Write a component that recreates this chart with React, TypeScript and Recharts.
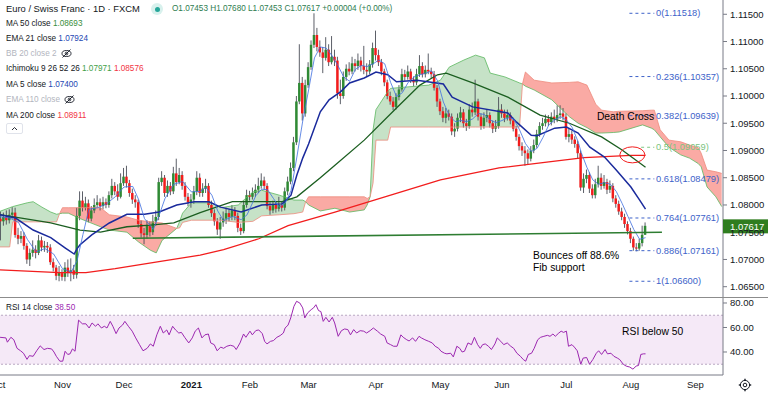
import React from 'react';
import { ComposedChart, Bar, Line, Area, XAxis, YAxis, ReferenceLine, ReferenceDot, ReferenceArea } from 'recharts';

const FONT = '"Liberation Sans", Arial, Helvetica, sans-serif';

// ---------- daily candles (Oct 1 2020 .. Aug 9 2021), open = previous close ----------
const firstOpen = 1.0785;
const closes = [
  1.0775,1.0770,1.0778,1.0772,1.0782,1.0786,1.0745,1.0738,1.0743,1.0725,1.0700,1.0712,1.0718,1.0712,1.0735,1.0722,1.0725,1.0722,1.0695,1.0685,1.0670,1.0675,
  1.0668,1.0685,1.0675,1.0680,1.0672,1.0780,1.0808,1.0795,1.0803,1.0775,1.0790,1.0800,1.0805,1.0798,1.0805,1.0800,1.0818,1.0835,1.0825,1.0815,1.0840,
  1.0852,1.0840,1.0822,1.0810,1.0805,1.0765,1.0748,1.0745,1.0762,1.0750,1.0770,1.0778,1.0842,1.0850,1.0822,1.0835,1.0825,1.0858,1.0842,1.0855,1.0835,1.0815,1.0805,
  1.0810,1.0825,1.0850,1.0822,1.0830,1.0835,1.0800,1.0785,1.0770,1.0755,1.0768,1.0775,1.0785,1.0778,1.0790,1.0780,1.0758,1.0752,1.0800,1.0818,
  1.0815,1.0822,1.0828,1.0835,1.0845,1.0835,1.0798,1.0790,1.0800,1.0793,1.0800,1.0795,1.0825,1.0843,1.0868,1.0915,1.0990,1.1024,1.0968,1.1020,
  1.1053,1.1094,1.1112,1.1090,1.1080,1.1070,1.1085,1.1062,1.1072,1.1065,1.1005,1.1000,1.1035,1.1050,1.1045,1.1060,1.1055,1.1065,1.1055,1.1048,1.1045,1.1058,1.1088,
  1.1075,1.1062,1.1045,1.1025,1.1000,1.0990,1.0980,1.0998,1.1012,1.1040,1.1035,1.1045,1.1030,1.1025,1.1040,1.1055,1.1040,1.1048,1.1045,1.1040,1.1015,1.0990,
  1.0972,1.0960,1.0968,1.0962,1.0935,1.0940,1.0960,1.0970,1.0950,1.0945,1.0975,1.0970,1.0990,1.0962,1.0945,1.0960,1.0965,1.0950,1.0940,1.0945,1.0975,
  1.0968,1.0960,1.0965,1.0955,1.0940,1.0925,1.0908,1.0900,1.0895,1.0885,1.0900,1.0910,1.0930,1.0945,1.0950,1.0958,1.0952,1.0962,1.0958,1.0965,1.0968,1.0962,
  1.0925,1.0930,1.0920,1.0912,1.0895,1.0832,1.0848,1.0855,1.0830,1.0818,1.0838,1.0850,1.0835,1.0842,1.0828,1.0835,1.0812,1.0802,1.0788,1.0778,1.0765,1.0752,
  1.0738,1.0722,1.0720,1.0730,1.07453,1.07617,
];
const highs = [
  1.0795,1.0788,1.0786,1.0790,1.0792,1.0796,1.0795,1.0758,1.0752,1.0750,1.0730,1.0720,1.0735,1.0726,1.0745,1.0742,1.0734,1.0732,1.0728,1.0702,1.0690,1.0688,
  1.0682,1.0695,1.0700,1.0702,1.0690,1.0795,1.0825,1.0825,1.0815,1.0810,1.0798,1.0812,1.0818,1.0812,1.0815,1.0812,1.0825,1.0848,1.0842,1.0838,1.0858,
  1.0868,1.0872,1.0846,1.0830,1.0818,1.0810,1.0772,1.0758,1.0772,1.0770,1.0782,1.0790,1.0850,1.0862,1.0855,1.0845,1.0842,1.0870,1.0885,1.0868,1.0862,1.0842,1.0822,
  1.0820,1.0835,1.0862,1.0858,1.0840,1.0848,1.0840,1.0808,1.0792,1.0776,1.0778,1.0788,1.0795,1.0792,1.0800,1.0796,1.0786,1.0766,1.0808,1.0828,
  1.0826,1.0832,1.0838,1.0850,1.0858,1.0852,1.0840,1.0805,1.0808,1.0806,1.0815,1.0806,1.0832,1.0852,1.0878,1.0925,1.1000,1.1095,1.1035,1.1030,
  1.1062,1.1102,1.11518,1.1125,1.1102,1.1090,1.1108,1.1095,1.1110,1.1085,1.1072,1.1030,1.1045,1.1058,1.1062,1.1072,1.1068,1.1078,1.1072,1.1092,1.1060,1.1066,1.1098,
  1.1120,1.1085,1.1068,1.1050,1.1030,1.1008,1.0998,1.1005,1.1020,1.1050,1.1048,1.1056,1.1050,1.1036,1.1050,1.1075,1.1062,1.1056,1.1078,1.1052,1.1046,1.1020,
  1.0995,1.0980,1.0978,1.0975,1.0968,1.0950,1.0968,1.0980,1.0976,1.0958,1.0985,1.0988,1.1030,1.0995,1.0968,1.0970,1.0975,1.0970,1.0955,1.0956,1.0998,
  1.0985,1.0975,1.0975,1.0970,1.0960,1.0945,1.0930,1.0915,1.0908,1.0902,1.0908,1.0920,1.0938,1.0952,1.0960,1.0966,1.0965,1.0970,1.0975,1.0983,1.0983,1.0978,
  1.0968,1.0940,1.0936,1.0926,1.0918,1.0900,1.0858,1.0865,1.0860,1.0838,1.0848,1.0872,1.0858,1.0855,1.0848,1.0845,1.0840,1.0818,1.0808,1.0795,1.0784,1.0770,
  1.0758,1.0742,1.0730,1.0738,1.0762,1.07680,
];
const lows = [
  1.0765,1.0735,1.0762,1.0764,1.0766,1.0775,1.0740,1.0728,1.0730,1.0718,1.0692,1.0688,1.0705,1.0702,1.0708,1.0715,1.0714,1.0712,1.0690,1.0678,1.0662,1.0660,
  1.0661,1.0660,1.0668,1.0660,1.0664,1.0665,1.0772,1.0788,1.0790,1.0768,1.0770,1.0785,1.0795,1.0790,1.0792,1.0794,1.0795,1.0812,1.0818,1.0808,1.0812,
  1.0835,1.0832,1.0815,1.0802,1.0795,1.0758,1.0740,1.0728,1.0738,1.0742,1.0745,1.0762,1.0772,1.0835,1.0815,1.0815,1.0818,1.0820,1.0835,1.0838,1.0828,1.0808,1.0798,
  1.0795,1.0802,1.0818,1.0815,1.0815,1.0822,1.0795,1.0778,1.0762,1.0745,1.0738,1.0760,1.0765,1.0770,1.0772,1.0772,1.0750,1.0745,1.0748,1.0795,
  1.0808,1.0810,1.0815,1.0822,1.0830,1.0828,1.0792,1.0782,1.0785,1.0786,1.0788,1.0788,1.0790,1.0818,1.0838,1.0862,1.0910,1.0985,1.0955,1.0962,
  1.1015,1.1048,1.1088,1.1082,1.1072,1.1042,1.1065,1.1055,1.1058,1.1055,1.0995,1.0985,1.0995,1.1028,1.1038,1.1040,1.1045,1.1048,1.1045,1.1040,1.1035,1.1040,1.1052,
  1.1065,1.1055,1.1038,1.1018,1.0994,1.0984,1.0974,1.0975,1.0992,1.1008,1.1028,1.1030,1.1024,1.1018,1.1020,1.1035,1.1034,1.1034,1.1040,1.1032,1.1010,1.0980,
  1.0965,1.0952,1.0950,1.0955,1.0928,1.0925,1.0935,1.0952,1.0942,1.0936,1.0940,1.0962,1.0965,1.0955,1.0938,1.0940,1.0952,1.0942,1.0932,1.0934,1.0940,
  1.0960,1.0952,1.0955,1.0948,1.0935,1.0918,1.0900,1.0890,1.0872,1.0875,1.0880,1.0895,1.0905,1.0925,1.0938,1.0944,1.0945,1.0946,1.0950,1.0952,1.0958,1.0955,
  1.0920,1.0915,1.0912,1.0905,1.0886,1.0826,1.0822,1.0840,1.0822,1.0812,1.0812,1.0832,1.0828,1.0830,1.0820,1.0822,1.0805,1.0795,1.0782,1.0772,1.0758,1.0746,
  1.0730,1.0716,1.0715,1.0716,1.0724,1.07453,
];

// ---------- indicator lines: [bar index, value] ----------
const ma5Pts: [number, number][] = [
  [0,1.0779],[4,1.0776],[7,1.0768],[10,1.0737],[13,1.0714],[16,1.0720],[19,1.0710],[22,1.0683],[25,1.0677],[27,1.0698],[29,1.0746],[31,1.0792],
  [34,1.0795],[37,1.0802],[40,1.0815],[43,1.0833],[46,1.0834],[48,1.0810],[50,1.0775],[53,1.0755],[55,1.0781],[57,1.0812],[60,1.0838],[63,1.0843],
  [66,1.0824],[69,1.0825],[71,1.0832],[73,1.0818],[75,1.0789],[77,1.0771],[80,1.0779],[83,1.0773],[85,1.0782],[88,1.0817],[90,1.0829],[92,1.0828],
  [94,1.0812],[96,1.0796],[98,1.0803],[100,1.0826],[102,1.0888],[104,1.0954],[106,1.1011],[108,1.1070],[110,1.1090],[112,1.1088],[114,1.1074],
  [116,1.1056],[118,1.1035],[120,1.1027],[122,1.1049],[124,1.1056],[126,1.1054],[128,1.1059],[130,1.1066],[132,1.1059],[134,1.1025],[136,1.0999],
  [138,1.1006],[140,1.1025],[142,1.1035],[144,1.1039],[146,1.1042],[148,1.1046],[150,1.1028],[152,1.0989],[154,1.0964],[156,1.0953],[158,1.0955],
  [160,1.0953],[162,1.0958],[164,1.0968],[166,1.0966],[168,1.0956],[170,1.0951],[172,1.0955],[174,1.0960],[176,1.0958],[178,1.0938],[180,1.0913],
  [182,1.0898],[184,1.0904],[186,1.0924],[188,1.0947],[190,1.0956],[192,1.0962],[194,1.0956],[196,1.0942],[198,1.0916],[199,1.0897],[201,1.0869],
  [203,1.0846],[205,1.0838],[207,1.0841],[209,1.0838],[211,1.0825],[213,1.0803],[215,1.0779],[217,1.0755],[219,1.0737],[221,1.0740],
];
const ema21Pts: [number, number][] = [
  [0,1.0783],[6,1.0776],[12,1.0754],[18,1.0740],[23,1.0721],[26,1.0710],[27,1.0720],[28,1.0727],[32,1.0745],[38,1.0767],[44,1.0783],[50,1.0783],
  [55,1.0787],[61,1.0800],[67,1.0806],[72,1.0806],[76,1.0796],[83,1.0787],[90,1.0800],[97,1.0802],[100,1.0818],[102,1.0855],[104,1.0886],
  [106,1.0912],[110,1.0971],[113,1.0993],[117,1.1008],[120,1.1024],[125,1.1033],[129,1.1044],[133,1.1039],[136,1.1026],[143,1.1029],[152,1.1022],
  [155,1.0998],[162,1.0980],[174,1.0969],[177,1.0952],[182,1.0928],[184,1.0927],[190,1.0941],[194,1.0943],[198,1.0932],[202,1.0906],[207,1.0888],
  [211,1.0864],[216,1.0833],[219,1.0809],[221,1.07924],
];
const ma50Pts: [number, number][] = [
  [0,1.0783],[8,1.0776],[18,1.0767],[28,1.0754],[35,1.0750],[44,1.0760],[52,1.0763],[60,1.0767],[69,1.0786],[80,1.0806],[97,1.0806],[102,1.0815],
  [110,1.0850],[115,1.0873],[125,1.0919],[136,1.0978],[144,1.1020],[150,1.1039],[153,1.1042],[162,1.1024],[174,1.0998],[185,1.0965],[195,1.0950],
  [206,1.0925],[213,1.0901],[221,1.08693],
];
const ma200Pts: [number, number][] = [
  [0,1.0681],[21,1.0676],[30,1.0676],[40,1.0683],[56,1.0697],[69,1.0708],[77,1.0718],[89,1.0738],[99,1.0762],[115,1.0787],[134,1.0818],
  [151,1.0846],[171,1.0868],[188,1.0879],[200,1.0887],[216,1.0891],[221,1.08911],
];

// ---------- Ichimoku leading spans (shifted 26 bars ahead) ----------
const kumoIdx = [0,4,5,10,12,15,18,20,21,22,24,28,35,38,44,48,52,54,56,59,61,62,63,66,73,76,82,87,90,96,101,104,105,106,110,115,120,125,126,127,128,129,133,134,147,151,154,159,163,166,168,173,178,179,180,183,189,195,198,201,204,206,210,212,220,223,224,226,229,233,236,239,240,242,245,247];
const kumoA = [1.0787,1.0795,1.0797,1.0804,1.0806,1.0796,1.0787,1.0783,1.0784,1.0785,1.0785,1.0775,1.0760,1.0754,1.0750,1.0732,1.0717,1.0712,1.0735,1.0748,1.0757,1.0770,1.0785,1.0804,1.0804,1.0795,1.0800,1.0824,1.0827,1.0818,1.0809,1.0809,1.0806,1.0800,1.0789,1.0794,1.0787,1.0791,1.0800,1.0815,1.0938,1.0975,1.1008,1.1014,1.1020,1.1029,1.1053,1.1066,1.1075,1.1070,1.1042,1.1035,1.1024,1.1022,1.1018,1.1011,1.0993,1.0962,1.0950,1.0942,1.0932,1.0932,1.0933,1.0934,1.0947,1.0941,1.0938,1.0925,1.0906,1.0892,1.0886,1.0876,1.0870,1.0833,1.0815,1.0797];
const kumoB = [1.0723,1.0723,1.0769,1.0769,1.0769,1.0769,1.0769,1.0769,1.0784,1.0795,1.0795,1.0795,1.0795,1.0782,1.0778,1.0772,1.0769,1.0768,1.0767,1.0761,1.0757,1.0758,1.0768,1.0772,1.0772,1.0772,1.0768,1.0770,1.0780,1.0782,1.0784,1.0787,1.0806,1.0815,1.0815,1.0815,1.0815,1.0815,1.0812,1.0815,1.0840,1.0919,1.0919,1.0943,1.0943,1.0943,1.0943,1.0943,1.0943,1.0943,1.0943,1.0943,1.0943,1.1022,1.1044,1.1029,1.1024,1.1025,1.1026,1.1020,1.0985,1.0974,1.0971,1.0972,1.0973,1.0974,1.0974,1.0938,1.0919,1.0916,1.0910,1.0905,1.0895,1.0864,1.0861,1.0858];

// ---------- RSI 14 ----------
const rsiPts: [number, number][] = [
  [0.7,52],[2.7,51.5],[3.2,48],[4.4,52],[5.4,50],[6.5,43],[7.7,41],[8.7,39],[9.9,34],[10.7,37],[12,36.5],[13.2,41],[14.4,45],[15.7,42],[16.9,43],
  [18.3,42.5],[19.1,40],[19.9,36.5],[21.1,32.5],[22.1,32.5],[22.9,40.6],[23.8,38],[24.6,38.5],[25.4,42.5],[26.3,40.6],[27.5,66],[28.8,63],[30,63],
  [31.1,59.6],[32.1,63.7],[33.3,61],[34.1,63],[35.3,59.6],[36.3,61],[37.2,59.6],[38.3,65],[39.2,61],[40.3,55],[41.3,59.6],[42.5,62],[43.3,65],
  [44.5,61],[45.8,57],[47,51.5],[48.3,46],[49.5,41],[50.9,43],[52,46.6],[53,44.7],[54.2,54],[55.4,61],[56.4,55.5],[57.6,58],[58.4,54],[59.6,61],
  [60.6,58],[61.7,55.5],[62.6,56],[63.7,52],[65.1,47.4],[66.3,51.5],[67.3,57],[68.4,59.6],[69.6,51.5],[70.6,54],[71.8,54.7],[72.6,47.4],[73.8,46],
  [74.8,41],[76,44],[77,43],[78.1,44.7],[79.3,45.5],[80.5,44.7],[81.3,42],[82.6,47.4],[83.8,54.7],[84.6,52],[86,57],[86.8,54],[88,57.5],[89,58],
  [90.2,55],[91,48.7],[91.8,46.6],[93,48.7],[94,49.3],[95.2,52],[96.3,53.4],[97.4,55.5],[98,59.6],[99,62],[99.9,67.8],[101,77.3],[101.9,81.4],
  [103,80],[104,76],[104.7,67.8],[105.7,72],[106.9,74.6],[107.7,76],[108.5,78.6],[109.4,73.8],[110.2,73],[111,65],[111.9,68.3],[113,64.5],
  [114.1,68.3],[114.9,63.7],[116.1,52.8],[117.2,57.4],[118.3,58.8],[119.4,58.3],[120.3,54],[121.4,58.3],[122.4,55.5],[123.6,57.4],[124.8,57],
  [125.8,55.5],[127,57.4],[128.1,59.6],[129.5,57],[130.6,54.7],[132,52.8],[132.8,47.4],[134,46],[135,44.7],[136.2,44.7],[137.5,54],[138.3,52],
  [139.5,50],[140.3,49],[141.5,51.5],[142.5,48.7],[143.7,52.8],[144.5,51.5],[145.7,50],[147,48.7],[148.2,47.4],[149.2,44.7],[150.4,43],[151.2,40.6],
  [152.4,39],[153.2,38.5],[154.5,39],[155.4,36],[156.6,44.7],[157.6,43],[158.4,40],[159.2,40.6],[160.4,47.4],[161.6,46],[162.6,52],[163.7,46],
  [164.6,43],[165.4,46],[166.3,46.6],[167.4,44.7],[168.4,42],[169.6,46.6],[170.4,51.5],[171.6,48.7],[172.6,46],[173.8,47.4],[175,44.7],[176,43],
  [177.1,39],[178.3,36.5],[179.3,33.8],[180.1,32.5],[181,38],[182.1,39],[183,43],[184.2,50],[185.2,52],[186.3,52.8],[187.5,53.6],[188.4,52.8],
  [189.4,54.7],[190.2,52.8],[191.4,55.5],[192.2,57],[193,56],[194,57],[194.7,44.7],[195.9,46],[196.7,44],[197.7,41],[198.9,30],[199.7,35],
  [200.9,35.5],[201.9,30],[203,33.8],[204.2,39],[205,41],[206,38],[207.2,42],[208,38.5],[209.2,39],[210.2,36.5],[211.4,35],[212.2,33.8],
  [213.4,30],[214.4,28.5],[215.6,27.7],[216.7,26],[217.8,28.5],[218.6,29],[219.4,38],[220.3,38.5],[221,38.5],
];

// ---------- axes / annotations ----------
const priceTicks = [1.065, 1.07, 1.075, 1.08, 1.085, 1.09, 1.095, 1.1, 1.105, 1.11, 1.115];
const rsiTicks = [40, 60, 80];
const monthIdx = [0, 22, 43, 66, 86, 106, 129, 151, 172, 194, 216, 238];
const monthLabels = ['Oct', 'Nov', 'Dec', '2021', 'Feb', 'Mar', 'Apr', 'May', 'Jun', 'Jul', 'Aug', 'Sep'];
const fibLevels = ['0', '0.236', '0.382', '0.5', '0.618', '0.764', '0.886', '1'];
const fibPrices = [1.11518, 1.10357, 1.09639, 1.09059, 1.08479, 1.07761, 1.07161, 1.066];
const supportLine = [[46, 1.07389], [226.6, 1.075]];
const lastPrice = 1.07617;

const X_DOMAIN: [number, number] = [0.6826, 247.44];
const Y_DOMAIN: [number, number] = [1.06311, 1.11762];
const RSI_DOMAIN: [number, number] = [21.22, 84.08];

// ---------- build table ----------
const rows: any[] = Array.from({ length: 248 }, (_, i) => ({ i }));
closes.forEach((c, i) => {
  const o = i === 0 ? firstOpen : closes[i - 1];
  Object.assign(rows[i], { open: o, close: c, high: highs[i], low: lows[i], hl: [lows[i], highs[i]] });
});
const put = (pts: [number, number][], key: string) => pts.forEach(([x, v]) => { rows[x][key] = v; });
put(ma5Pts, 'ma5');
put(ema21Pts, 'ema21');
put(ma50Pts, 'ma50');
put(ma200Pts, 'ma200');
kumoIdx.forEach((x, k) => {
  const a = kumoA[k];
  const b = kumoB[k];
  rows[x].spanA = a;
  rows[x].spanB = b;
  if (a >= b) rows[x].kG = [b, a];
  if (b >= a) rows[x].kR = [a, b];
});
const rsiRows = rsiPts.map(([i, v]) => ({ i, rsi: v }));

function Candle(props: any) {
  const { x, y, width, height, payload } = props;
  if (!payload || payload.high == null) return null;
  const top = Math.min(y, y + height);
  const bottom = Math.max(y, y + height);
  const span = payload.high - payload.low;
  const k = span > 0 ? (bottom - top) / span : 0;
  const py = (v: number) => top + (payload.high - v) * k;
  const up = payload.close >= payload.open;
  const bTop = py(Math.max(payload.open, payload.close));
  const bBot = py(Math.min(payload.open, payload.close));
  const cx = x + width / 2;
  const bw = 2.5;
  return (
    <g>
      <line x1={cx} x2={cx} y1={top} y2={bottom} stroke="#4a4d57" strokeWidth={0.9} />
      <rect x={cx - bw / 2} y={bTop} width={bw} height={Math.max(1, bBot - bTop)} fill={up ? '#2f8a34' : '#f21c1c'} />
    </g>
  );
}

const textShape = (lines: string[], size: number, color: string, lh = 12, weight = 400) => (p: any) => (
  <text x={p.cx} y={p.cy} fontSize={size} fill={color} fontFamily={FONT} fontWeight={weight} dominantBaseline="central">
    {lines.map((l, k) => (
      <tspan key={k} x={p.cx} dy={k === 0 ? 0 : lh}>{l}</tspan>
    ))}
  </text>
);

const MonthTick = (p: any) => {
  const k = monthIdx.indexOf(p.payload.value);
  const label = monthLabels[k] ?? '';
  return (
    <text x={p.x} y={p.y + 12.5} textAnchor="middle" fontSize={9.5} fontFamily={FONT} fill="#131722" fontWeight={label === '2021' ? 700 : 400}>
      {label}
    </text>
  );
};

const EyeOff = () => (
  <svg width="11" height="9" viewBox="0 0 11 9" style={{ marginLeft: 4, verticalAlign: 'middle' }}>
    <ellipse cx="5.5" cy="4.5" rx="4.5" ry="3" fill="none" stroke="#131722" strokeWidth="0.9" />
    <circle cx="5.5" cy="4.5" r="1.3" fill="none" stroke="#131722" strokeWidth="0.9" />
    <line x1="1.5" y1="8.5" x2="9.5" y2="0.5" stroke="#131722" strokeWidth="0.9" />
  </svg>
);

const legendRow = (top: number, parts: { t: string; c: string }[], icon = false) => (
  <div style={{ position: 'absolute', left: 6, top, fontSize: 8.2, lineHeight: '10px', fontFamily: FONT, whiteSpace: 'nowrap' }}>
    {parts.map((p, k) => (
      <span key={k} style={{ color: p.c }}>{(k ? ' ' : '') + p.t}</span>
    ))}
    {icon ? <EyeOff /> : null}
  </div>
);

export default function App() {
  const tickStyle = { fontSize: 9.5, fill: '#131722', fontFamily: FONT };
  return (
    <div style={{ position: 'absolute', left: 0, top: 0, width: 768, height: 397, background: '#fff', overflow: 'hidden' }}>
      <div style={{ position: 'absolute', left: 0, top: 0 }}>
        <ComposedChart width={768} height={297} data={rows} margin={{ top: 0, right: 0, bottom: 0, left: 0 }}>
          <XAxis dataKey="i" type="number" domain={X_DOMAIN} allowDataOverflow hide />
          <YAxis
            orientation="right"
            width={45}
            domain={Y_DOMAIN}
            allowDataOverflow
            ticks={priceTicks}
            interval={0}
            tickFormatter={(v: number) => v.toFixed(5)}
            tick={tickStyle}
            tickSize={4}
            tickMargin={3}
            tickLine={{ stroke: '#787b86' }}
            axisLine={{ stroke: '#787b86' }}
          />
          <Area dataKey="kG" type="linear" stroke="none" fill="#43a047" fillOpacity={0.3} connectNulls isAnimationActive={false} />
          <Area dataKey="kR" type="linear" stroke="none" fill="#f44336" fillOpacity={0.45} connectNulls isAnimationActive={false} />
          <Line dataKey="spanA" type="linear" stroke="#5cb85f" strokeWidth={0.8} dot={false} activeDot={false} connectNulls isAnimationActive={false} />
          <Line dataKey="spanB" type="linear" stroke="#ee8a7c" strokeWidth={0.8} dot={false} activeDot={false} connectNulls isAnimationActive={false} />
          <Bar dataKey="hl" barSize={2} shape={(p: any) => <Candle {...p} />} isAnimationActive={false} />
          <Line dataKey="ma200" type="linear" stroke="#f21d1d" strokeWidth={1.3} dot={false} activeDot={false} connectNulls isAnimationActive={false} />
          <Line dataKey="ma50" type="linear" stroke="#1b5e20" strokeWidth={1.3} dot={false} activeDot={false} connectNulls isAnimationActive={false} />
          <Line dataKey="ema21" type="linear" stroke="#1a2a9c" strokeWidth={1.5} dot={false} activeDot={false} connectNulls isAnimationActive={false} />
          <Line dataKey="ma5" type="linear" stroke="#3f6fe0" strokeWidth={0.8} dot={false} activeDot={false} connectNulls isAnimationActive={false} />
          <ReferenceLine
            segment={[{ x: supportLine[0][0], y: supportLine[0][1] }, { x: supportLine[1][0], y: supportLine[1][1] }]}
            stroke="#2e7d32"
            strokeWidth={1.6}
          />
          {fibPrices.map((p, k) => (
            <ReferenceLine
              key={'fl' + k}
              segment={[{ x: fibLevels[k] === '0.5' ? 219.5 : 215.5, y: p }, { x: 224, y: p }]}
              stroke={fibLevels[k] === '0.5' ? '#81c784' : '#3d62c9'}
              strokeDasharray="3 3"
              strokeWidth={1}
            />
          ))}
          {fibPrices.map((p, k) => (
            <ReferenceDot
              key={'fd' + k}
              x={224.6}
              y={p}
              r={1}
              shape={textShape([`${fibLevels[k]}(${p.toFixed(5)})`], 9.3, fibLevels[k] === '0.5' ? '#7cc47f' : '#3d62c9')}
            />
          ))}
          <ReferenceDot x={204.4} y={1.0963} r={1} shape={textShape(['Death Cross'], 10.3, '#000')} />
          <ReferenceDot
            x={216.5}
            y={1.0892}
            r={1}
            shape={(p: any) => <ellipse cx={p.cx} cy={p.cy} rx={12.5} ry={8} fill="none" stroke="#f21d1d" strokeWidth={1} />}
          />
          <ReferenceDot x={182.6} y={1.0708} r={1} shape={textShape(['Bounces off 88.6%', 'Fib support'], 10.3, '#000', 11.5)} />
          <ReferenceDot
            x={X_DOMAIN[1]}
            y={lastPrice}
            r={1}
            shape={(p: any) => (
              <g>
                <rect x={p.cx} y={p.cy - 6.5} width={45} height={14} fill="#2f7d1f" />
                <text x={p.cx + 7} y={p.cy + 0.5} fontSize={9.5} fill="#fff" fontFamily={FONT} dominantBaseline="central">
                  {lastPrice.toFixed(5)}
                </text>
              </g>
            )}
          />
        </ComposedChart>
      </div>

      <div style={{ position: 'absolute', left: 0, top: 297, width: 768, height: 1, background: '#8c8c8c' }} />

      <div style={{ position: 'absolute', left: 0, top: 297 }}>
        <ComposedChart width={768} height={100} data={rsiRows} margin={{ top: 1, right: 0, bottom: 0, left: 0 }}>
          <XAxis
            dataKey="i"
            type="number"
            domain={X_DOMAIN}
            allowDataOverflow
            ticks={monthIdx}
            interval={0}
            tick={<MonthTick />}
            tickLine={false}
            tickSize={0}
            tickMargin={0}
            height={22}
            axisLine={{ stroke: '#787b86' }}
          />
          <YAxis
            orientation="right"
            width={45}
            domain={RSI_DOMAIN}
            allowDataOverflow
            ticks={rsiTicks}
            interval={0}
            tickFormatter={(v: number) => v.toFixed(2)}
            tick={tickStyle}
            tickSize={4}
            tickMargin={3}
            tickLine={{ stroke: '#787b86' }}
            axisLine={{ stroke: '#787b86' }}
          />
          <ReferenceArea y1={30} y2={70} fill="#9c27b0" fillOpacity={0.1} stroke="none" />
          <ReferenceLine y={70} stroke="#b9a7c2" strokeDasharray="2 2" />
          <ReferenceLine y={30} stroke="#b9a7c2" strokeDasharray="2 2" />
          <Line dataKey="rsi" type="linear" stroke="#9c27b0" strokeWidth={1} dot={false} activeDot={false} isAnimationActive={false} />
          <ReferenceDot x={213} y={57.1} r={1} shape={textShape(['RSI below 50'], 10.3, '#000')} />
        </ComposedChart>
      </div>

      {/* legend */}
      <div style={{ position: 'absolute', left: 6, top: 3, fontSize: 9.4, lineHeight: '12px', fontFamily: FONT, color: '#131722', whiteSpace: 'nowrap' }}>
        Euro / Swiss Franc · 1D · FXCM
      </div>
      <div style={{ position: 'absolute', left: 151, top: 3, width: 12, height: 12, borderRadius: 6, background: '#d8f1ed' }} />
      <div style={{ position: 'absolute', left: 154.5, top: 6.5, width: 5, height: 5, borderRadius: 3, background: '#26a69a' }} />
      <div style={{ position: 'absolute', left: 172, top: 4, fontSize: 8.2, lineHeight: '10px', fontFamily: FONT, color: '#2e7d4f', whiteSpace: 'nowrap' }}>
        O1.07453 H1.07680 L1.07453 C1.07617 +0.00004 (+0.00%)
      </div>
      {legendRow(19, [{ t: 'MA 50 close', c: '#131722' }, { t: '1.08693', c: '#388e3c' }])}
      {legendRow(34, [{ t: 'EMA 21 close', c: '#131722' }, { t: '1.07924', c: '#2447b2' }])}
      {legendRow(49, [{ t: 'BB 20 close 2', c: '#b2b5be' }], true)}
      {legendRow(64, [{ t: 'Ichimoku 9 26 52 26', c: '#131722' }, { t: '1.07971', c: '#43a047' }, { t: '1.08576', c: '#f23645' }])}
      {legendRow(80, [{ t: 'MA 5 close', c: '#131722' }, { t: '1.07400', c: '#2447b2' }])}
      {legendRow(95, [{ t: 'EMA 110 close', c: '#b2b5be' }], true)}
      {legendRow(111, [{ t: 'MA 200 close', c: '#131722' }, { t: '1.08911', c: '#f23645' }])}
      <div style={{ position: 'absolute', left: 6, top: 123, width: 17, height: 11, border: '1px solid #e0e3eb', borderRadius: 2, boxSizing: 'border-box', background: '#fff' }}>
        <svg width="15" height="9" style={{ position: 'absolute', left: 0, top: 0 }}>
          <polyline points="5,6 7.5,3.5 10,6" fill="none" stroke="#131722" strokeWidth="0.9" />
        </svg>
      </div>
      <div style={{ position: 'absolute', left: 6, top: 303, fontSize: 8.2, lineHeight: '10px', fontFamily: FONT, whiteSpace: 'nowrap' }}>
        <span style={{ color: '#131722' }}>RSI 14 close</span>
        <span style={{ color: '#9c27b0' }}> 38.50</span>
      </div>
      {/* settings gear */}
      <svg width="14" height="14" style={{ position: 'absolute', left: 738, top: 378 }}>
        <circle cx="7" cy="7" r="4.6" fill="none" stroke="#131722" strokeWidth="1" />
        <circle cx="7" cy="7" r="1.8" fill="none" stroke="#131722" strokeWidth="1" />
        <line x1="7" y1="0.8" x2="7" y2="2.6" stroke="#131722" strokeWidth="1.4" />
        <line x1="7" y1="11.4" x2="7" y2="13.2" stroke="#131722" strokeWidth="1.4" />
        <line x1="0.8" y1="7" x2="2.6" y2="7" stroke="#131722" strokeWidth="1.4" />
        <line x1="11.4" y1="7" x2="13.2" y2="7" stroke="#131722" strokeWidth="1.4" />
      </svg>
    </div>
  );
}
